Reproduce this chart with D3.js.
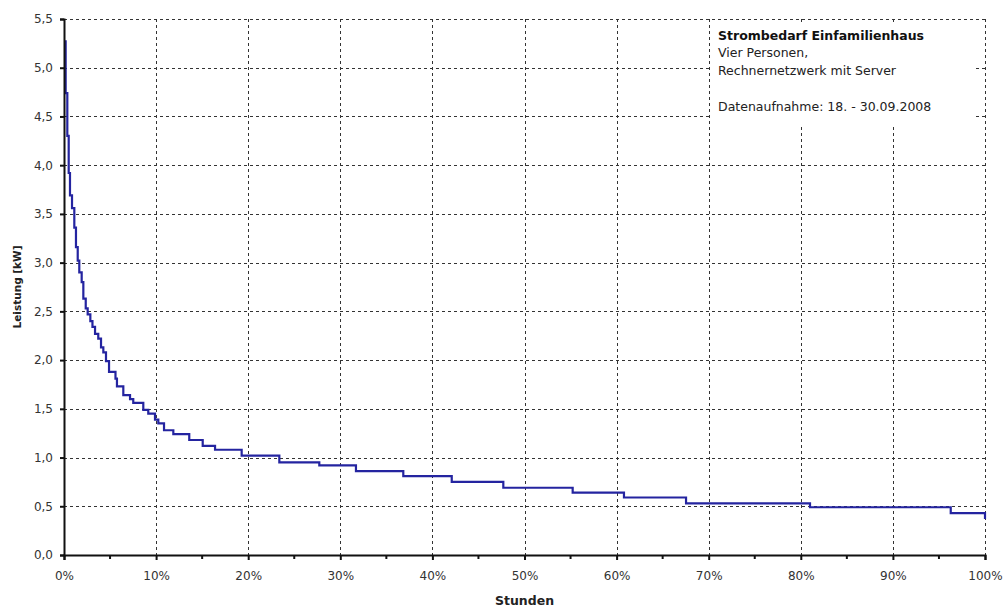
<!DOCTYPE html>
<html><head><meta charset="utf-8">
<script src="https://cdn.jsdelivr.net/npm/d3@7"></script>
<style>
html,body{margin:0;padding:0;background:#fff;}
svg{display:block;}
text{font-family:"DejaVu Sans",Verdana,sans-serif;}
</style></head>
<body>
<svg id="chart" width="1005" height="608"></svg>
<script>
// ---- data ----
const pctBreaks = [0, 0.18, 0.36, 0.51, 0.65, 0.87, 1.12, 1.30, 1.49, 1.66, 1.92, 2.10, 2.36, 2.57, 2.86, 3.09, 3.37, 3.72, 4.02, 4.27, 4.56, 4.89, 5.59, 5.75, 6.44, 7.17, 7.52, 8.61, 9.15, 9.88, 10.24, 10.86, 11.87, 13.60, 15.06, 16.40, 19.29, 23.38, 27.72, 31.70, 36.84, 42.10, 47.70, 55.23, 60.80, 67.54, 81.00, 96.28, 100];
const kwLevels = [5.27, 4.74, 4.30, 3.92, 3.69, 3.56, 3.36, 3.16, 3.02, 2.90, 2.80, 2.63, 2.53, 2.47, 2.40, 2.34, 2.27, 2.22, 2.13, 2.08, 1.99, 1.88, 1.81, 1.73, 1.64, 1.60, 1.56, 1.49, 1.45, 1.39, 1.35, 1.28, 1.24, 1.18, 1.12, 1.08, 1.02, 0.95, 0.92, 0.86, 0.81, 0.75, 0.69, 0.64, 0.59, 0.53, 0.49, 0.43, 0.37];
const xTickValues = [0, 10, 20, 30, 40, 50, 60, 70, 80, 90, 100];
const xMinorTicks = [5, 15, 25, 35, 45, 55, 65, 75, 85, 95];
const yTickValues = [0, 0.5, 1.0, 1.5, 2.0, 2.5, 3.0, 3.5, 4.0, 4.5, 5.0, 5.5];
const xTitle = "Stunden";
const yTitle = "Leistung [kW]";
const infoTitle = "Strombedarf Einfamilienhaus";
const infoLines = ["Vier Personen,", "Rechnernetzwerk mit Server", "", "Datenaufnahme: 18. - 30.09.2008"];

// ---- layout ----
const svg = d3.select("#chart");
const L = 64, R = 985, T = 19, B = 555;
const x = d3.scaleLinear().domain([0, 100]).range([L, R]);
const y = d3.scaleLinear().domain([0, 5.5]).range([B, T]);
const fmtY = d => d3.format(".1f")(d).replace(".", ",");

svg.append("rect").attr("width", 1005).attr("height", 608).attr("fill", "#fff");

// grid
const grid = svg.append("g").attr("stroke", "#333").attr("stroke-width", 1).attr("stroke-dasharray", "3,3").attr("shape-rendering", "crispEdges");
grid.selectAll(".gx").data(xTickValues.slice(1)).join("line")
  .attr("x1", d => Math.round(x(d)) + 0.5).attr("x2", d => Math.round(x(d)) + 0.5)
  .attr("y1", T).attr("y2", B);
grid.selectAll(".gy").data(yTickValues.slice(1)).join("line")
  .attr("y1", d => Math.round(y(d)) + 0.5).attr("y2", d => Math.round(y(d)) + 0.5)
  .attr("x1", L).attr("x2", R);

// info box (covers grid)
svg.append("rect").attr("x", 710).attr("y", 23).attr("width", 263).attr("height", 104).attr("fill", "#fff");
const info = svg.append("text").attr("x", 718).attr("y", 40).attr("fill", "#111").attr("font-size", 12.5);
info.append("tspan").attr("font-weight", "bold").text(infoTitle);
const lineY = [57, 75, 93, 111];
infoLines.forEach((t, i) => {
  if (t) svg.append("text").attr("x", 718).attr("y", lineY[i]).attr("fill", "#222").attr("font-size", 12.5).text(t);
});

// curve
const pts = pctBreaks.map((p, i) => [p, kwLevels[i]]);
const line = d3.line().x(d => x(d[0])).y(d => y(d[1])).curve(d3.curveStepAfter);
svg.append("path").datum(pts).attr("d", line)
  .attr("fill", "none").attr("stroke", "#2424a0").attr("stroke-width", 2.2);

// axes
const xAxis = d3.axisBottom(x).tickValues(xTickValues).tickFormat(d => d + "%").tickSize(5).tickPadding(11);
const gx = svg.append("g").attr("transform", `translate(0,${B})`).call(xAxis);
gx.select(".domain").attr("stroke", "#111").attr("stroke-width", 2);
gx.selectAll(".tick line").attr("stroke", "#111").attr("stroke-width", 2);
gx.selectAll(".tick text").attr("font-family", '"DejaVu Sans",sans-serif').attr("font-size", 12).attr("fill", "#333");
gx.append("g").selectAll("line").data(xMinorTicks).join("line")
  .attr("x1", d => x(d)).attr("x2", d => x(d)).attr("y1", 0).attr("y2", 4)
  .attr("stroke", "#111").attr("stroke-width", 2);

const yAxis = d3.axisLeft(y).tickValues(yTickValues).tickFormat(fmtY).tickSize(4).tickPadding(7);
const gy = svg.append("g").attr("transform", `translate(${L},0)`).call(yAxis);
gy.select(".domain").attr("stroke", "#111").attr("stroke-width", 2);
gy.selectAll(".tick line").attr("stroke", "#111").attr("stroke-width", 2);
gy.selectAll(".tick text").attr("font-family", '"DejaVu Sans",sans-serif').attr("font-size", 12).attr("fill", "#333");

// titles
svg.append("text").attr("x", (L + R) / 2).attr("y", 605).attr("text-anchor", "middle")
  .attr("font-weight", "bold").attr("font-size", 12.5).attr("fill", "#222").text(xTitle);
svg.append("text").attr("transform", `translate(21,${(T + B) / 2}) rotate(-90)`).attr("text-anchor", "middle")
  .attr("font-family", '"Liberation Sans",Arial,sans-serif')
  .attr("font-weight", "bold").attr("font-size", 10.5).attr("fill", "#222").text(yTitle);
</script>
</body></html>
